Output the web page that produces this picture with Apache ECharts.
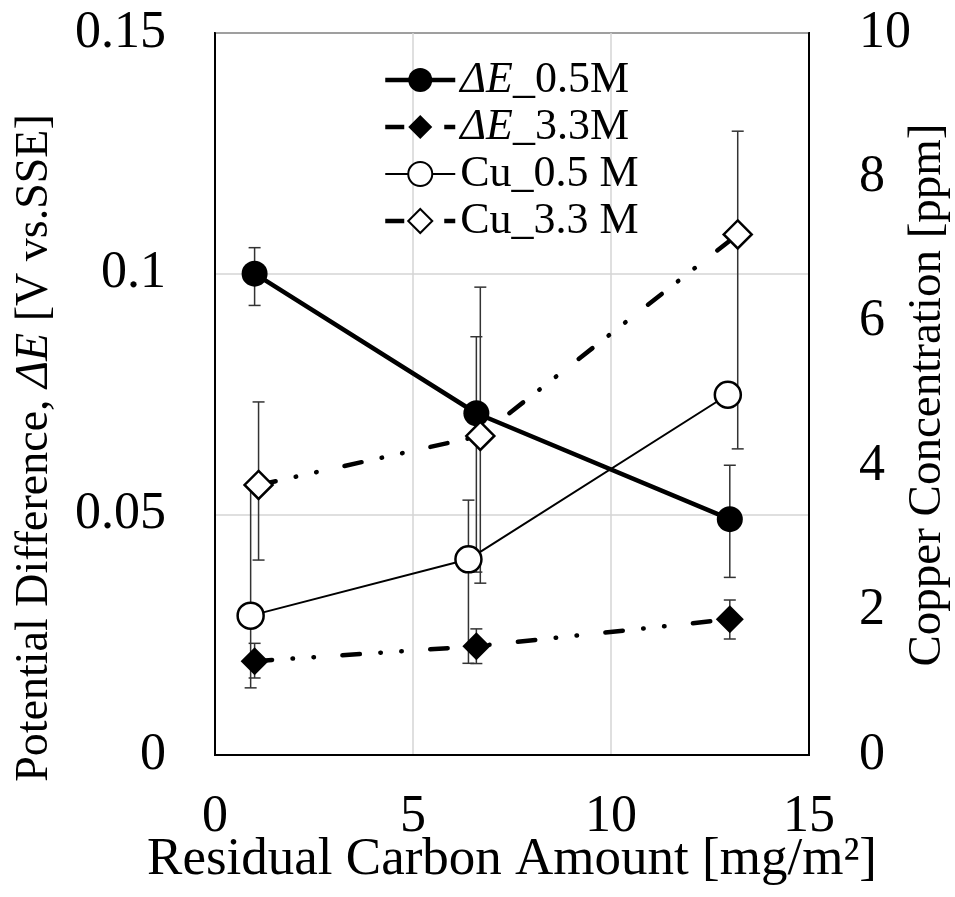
<!DOCTYPE html>
<html><head><meta charset="utf-8">
<script src="https://cdn.jsdelivr.net/npm/echarts@6/dist/echarts.min.js"></script>
<style>html,body{margin:0;padding:0;background:#fff}#c{width:955px;height:897px}</style>
</head><body><div id="c"></div>
<script>
// ---- data ----
const seriesNames = ['ΔE_0.5M', 'ΔE_3.3M', 'Cu_0.5 M', 'Cu_3.3 M'];
const xTicks = [0, 5, 10, 15];
const yLeftTicks = [0, 0.05, 0.1, 0.15];
const yRightTicks = [0, 2, 4, 6, 8, 10];

const dE05X = [1.0, 6.6, 13.0];
const dE05Y = [0.100, 0.071, 0.049];
const dE05Lo = [0.0934, 0.038, 0.0369];
const dE05Hi = [0.1054, 0.0869, 0.0602];

const dE33X = [1.0, 6.6, 13.0];
const dE33Y = [0.0195, 0.0226, 0.0282];
const dE33Lo = [0.016, 0.019, 0.0241];
const dE33Hi = [0.0232, 0.0262, 0.0322];

const cu05X = [0.9, 6.4, 12.95];
const cu05Y = [1.93, 2.71, 4.99];
const cu05Lo = [0.93, 1.27, null];
const cu05Hi = [3.74, 3.53, null];

const cu33X = [1.1, 6.7, 13.2];
const cu33Y = [3.74, 4.42, 7.21];
const cu33Lo = [2.70, 2.38, 4.24];
const cu33Hi = [4.89, 6.48, 8.64];

// ---- chart ----
const FONT = '"Liberation Serif", "Times New Roman", serif';
const zip = (xs, ys) => xs.map((x, i) => [x, ys[i]]);
const dashDotDot = [17.5, 20.5, 0.5, 20.5, 0.5, 28.5];
const legendDash = [19, 40, 11];

function errSeries(name, xs, lo, hi, yAxisIndex) {
  const data = xs.map((x, i) => [x, lo[i], hi[i]]).filter(d => d[1] != null);
  return {
    type: 'custom', name: name + ' err', yAxisIndex: yAxisIndex, z: 1, silent: true,
    encode: { x: 0, y: [1, 2] },
    renderItem: function (params, api) {
      const x = api.value(0);
      const p1 = api.coord([x, api.value(1)]);
      const p2 = api.coord([x, api.value(2)]);
      const cw = 6;
      const st = { stroke: '#333', lineWidth: 1.5, fill: null };
      return { type: 'group', children: [
        { type: 'line', shape: { x1: p1[0], y1: p1[1], x2: p2[0], y2: p2[1] }, style: st },
        { type: 'line', shape: { x1: p1[0] - cw, y1: p1[1], x2: p1[0] + cw, y2: p1[1] }, style: st },
        { type: 'line', shape: { x1: p2[0] - cw, y1: p2[1], x2: p2[0] + cw, y2: p2[1] }, style: st }
      ]};
    },
    data: data
  };
}

const chart = echarts.init(document.getElementById('c'), null, { renderer: 'canvas' });
chart.setOption({
  animation: false,
  backgroundColor: '#fff',
  textStyle: { fontFamily: FONT },
  grid: { left: 215, right: 146, top: 33, bottom: 142, show: true, borderColor: '#000', borderWidth: 2,
          containLabel: false, outerBoundsMode: 'none' },
  legend: {
    data: [
      { name: seriesNames[0], lineStyle: { width: 4.5, color: '#000' } },
      { name: seriesNames[1], lineStyle: { width: 4.5, color: '#000', type: legendDash, cap: 'butt' } },
      { name: seriesNames[2], lineStyle: { width: 2, color: '#000' } },
      { name: seriesNames[3], lineStyle: { width: 4.5, color: '#000', type: legendDash, cap: 'butt' } }
    ],
    left: 378, top: 53, orient: 'vertical',
    itemWidth: 70, itemHeight: 30, itemGap: 3,
    formatter: n => n.indexOf('ΔE') === 0 ? '{i|ΔE}' + n.slice(2) : n,
    textStyle: { fontFamily: FONT, fontSize: 44, color: '#000', lineHeight: 44,
      rich: { i: { fontFamily: FONT, fontSize: 44, fontStyle: 'italic', color: '#000', lineHeight: 44 } } }
  },
  xAxis: {
    type: 'value', min: xTicks[0], max: xTicks[xTicks.length - 1], interval: 5,
    axisLine: { show: true, lineStyle: { color: '#000', width: 2 } },
    axisTick: { show: false },
    axisLabel: { fontFamily: FONT, fontSize: 52, lineHeight: 38, color: '#000', margin: 43 },
    splitLine: { show: true, lineStyle: { color: '#d4d4d4', width: 1.5 } }
  },
  yAxis: [{
    type: 'value', min: yLeftTicks[0], max: yLeftTicks[yLeftTicks.length - 1], interval: 0.05,
    axisLine: { show: true, lineStyle: { color: '#000', width: 2 } },
    axisTick: { show: false },
    axisLabel: { fontFamily: FONT, fontSize: 52, color: '#000', margin: 49 },
    splitLine: { show: true, lineStyle: { color: '#d4d4d4', width: 1.5 } }
  }, {
    type: 'value', min: yRightTicks[0], max: yRightTicks[yRightTicks.length - 1], interval: 2,
    position: 'right',
    axisLine: { show: true, lineStyle: { color: '#000', width: 2 } },
    axisTick: { show: false },
    axisLabel: { fontFamily: FONT, fontSize: 52, color: '#000', margin: 50 },
    splitLine: { show: false }
  }],
  graphic: [
    { type: 'text', x: 512, y: 860, z: 10,
      style: { text: 'Residual Carbon Amount [mg/m²]', font: '53px ' + FONT, fontFamily: FONT, fontSize: 53, lineHeight: 42, fill: '#000',
        align: 'center', verticalAlign: 'middle', textAlign: 'center', textVerticalAlign: 'middle' } },
    { type: 'text', x: 35, y: 448, rotation: Math.PI / 2, z: 10,
      style: { text: 'Potential Difference, {i|ΔE} [V vs.SSE]', font: '46px ' + FONT, fontFamily: FONT, fontSize: 46, fill: '#000',
        align: 'center', verticalAlign: 'middle', textAlign: 'center', textVerticalAlign: 'middle',
        rich: { i: { fontFamily: FONT, fontSize: 46, fontStyle: 'italic', fill: '#000' } } } },
    { type: 'text', x: 928, y: 395, rotation: Math.PI / 2, z: 10,
      style: { text: 'Copper Concentration [ppm]', font: '47px ' + FONT, fontFamily: FONT, fontSize: 47, fill: '#000',
        align: 'center', verticalAlign: 'middle', textAlign: 'center', textVerticalAlign: 'middle' } }
  ],
  series: [
    errSeries(seriesNames[0], dE05X, dE05Lo, dE05Hi, 0),
    errSeries(seriesNames[1], dE33X, dE33Lo, dE33Hi, 0),
    errSeries(seriesNames[2], cu05X, cu05Lo, cu05Hi, 1),
    errSeries(seriesNames[3], cu33X, cu33Lo, cu33Hi, 1),
    { name: seriesNames[0], type: 'line', yAxisIndex: 0, data: zip(dE05X, dE05Y), z: 3,
      symbol: 'circle', symbolSize: 26, itemStyle: { color: '#000' },
      lineStyle: { color: '#000', width: 4.5 } },
    { name: seriesNames[1], type: 'line', yAxisIndex: 0, data: zip(dE33X, dE33Y), z: 3,
      symbol: 'diamond', symbolSize: 28, itemStyle: { color: '#000' },
      lineStyle: { color: '#000', width: 4.5, type: dashDotDot, cap: 'round' } },
    { name: seriesNames[2], type: 'line', yAxisIndex: 1, data: zip(cu05X, cu05Y), z: 3,
      symbol: 'circle', symbolSize: 26, itemStyle: { color: '#fff', borderColor: '#000', borderWidth: 2.5 },
      lineStyle: { color: '#000', width: 2 } },
    { name: seriesNames[3], type: 'line', yAxisIndex: 1, data: zip(cu33X, cu33Y), z: 3,
      symbol: 'diamond', symbolSize: 28, itemStyle: { color: '#fff', borderColor: '#000', borderWidth: 2.5 },
      lineStyle: { color: '#000', width: 4.5, type: dashDotDot, cap: 'round' } }
  ]
});
</script></body></html>
